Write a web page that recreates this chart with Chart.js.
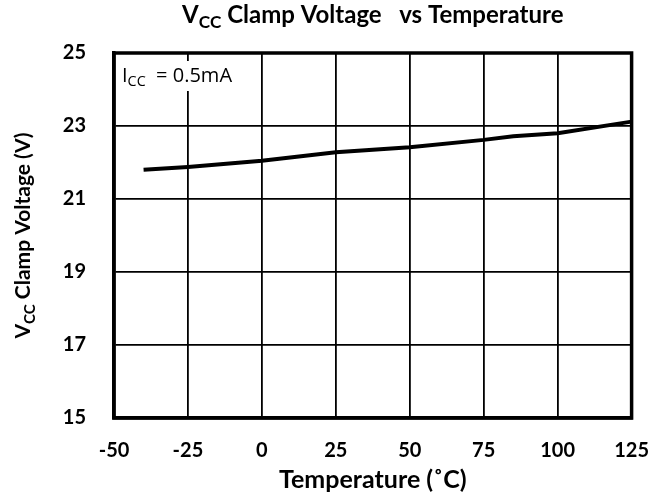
<!DOCTYPE html>
<html>
<head>
<meta charset="utf-8">
<script src="https://cdn.jsdelivr.net/npm/chart.js@4"></script>
<style>
  html, body { margin: 0; padding: 0; background: #fff; }
  #wrap { width: 670px; height: 497px; }
</style>
</head>
<body>
<div id="wrap"><canvas id="clampChart"></canvas></div>
<script>
const temperature = [-40, -25, 0, 25, 50, 75, 85, 100, 125];
const clampVoltage = [21.8, 21.88, 22.05, 22.28, 22.42, 22.62, 22.72, 22.8, 23.12];
const xTicks = [-50, -25, 0, 25, 50, 75, 100, 125];
const yTicks = [15, 17, 19, 21, 23, 25];

const labelFont = "Lato, 'Liberation Sans', sans-serif";

// draws text with a subscript part: parts = [[text, isSub], ...]
function drawSubText(ctx, parts, x, y, size, weight, align, family) {
    family = family || labelFont;
    let total = 0;
    parts.forEach(p => {
        ctx.font = weight + " " + (p[1] ? size * 0.72 : size) + "px " + family;
        total += ctx.measureText(p[0]).width;
    });
    let cx = align === "center" ? x - total / 2 : x;
    ctx.textAlign = "left";
    ctx.textBaseline = "alphabetic";
    parts.forEach(p => {
        ctx.font = weight + " " + (p[1] ? size * 0.72 : size) + "px " + family;
        ctx.fillText(p[0], cx, p[1] ? y + size * 0.22 : y);
        cx += ctx.measureText(p[0]).width;
    });
}

const framePlugin = {
    id: "frame",
    afterDraw(chart) {
        const { ctx, chartArea: a } = chart;
        ctx.save();
        ctx.strokeStyle = "#000";
        ctx.lineWidth = 3.5;
        ctx.strokeRect(a.left, a.top, a.right - a.left, a.bottom - a.top);
        ctx.fillStyle = "#000";

        // title
        drawSubText(ctx, [["V", false], ["CC", true], [" Clamp Voltage   vs Temperature", false]],
            (a.left + a.right) / 2, 23, 24, "bold", "center");

        // y axis title
        ctx.save();
        ctx.translate(30, (a.top + a.bottom) / 2);
        ctx.rotate(-Math.PI / 2);
        drawSubText(ctx, [["V", false], ["CC", true], [" Clamp Voltage (V)", false]], 0, 0, 21, "bold", "center");
        ctx.restore();

        // annotation
        ctx.fillStyle = "#fff";
        ctx.fillRect(a.left + 3, a.top + 8, 126, 30);
        ctx.fillStyle = "#000";
        drawSubText(ctx, [["I", false], ["CC", true], ["  = 0.5mA", false]],
            a.left + 8, a.top + 29, 20, "normal", "left", "'Open Sans', sans-serif");
        ctx.restore();
    }
};

new Chart(document.getElementById("clampChart"), {
    type: "line",
    data: {
        datasets: [{
            data: temperature.map((t, i) => ({ x: t, y: clampVoltage[i] })),
            borderColor: "#000",
            borderWidth: 4,
            pointRadius: 0,
            tension: 0,
            fill: false
        }]
    },
    options: {
        responsive: true,
        maintainAspectRatio: false,
        animation: false,
        layout: { padding: { top: 53, right: 34, left: 0, bottom: 0 } },
        plugins: {
            legend: { display: false },
            tooltip: { enabled: false }
        },
        scales: {
            x: {
                type: "linear",
                min: -50,
                max: 125,
                afterBuildTicks: axis => { axis.ticks = xTicks.map(v => ({ value: v })); },
                afterFit: axis => { axis.height = 79; },
                grid: { color: "#000", lineWidth: 1.8, drawTicks: false },
                border: { color: "#000", width: 3.5 },
                ticks: {
                    color: "#000",
                    padding: 21,
                    maxRotation: 0,
                    font: { family: labelFont, size: 20, weight: "bold" }
                },
                title: {
                    display: true,
                    text: "Temperature (˚C)",
                    color: "#000",
                    padding: { top: 0, bottom: 2 },
                    font: { family: labelFont, size: 25, weight: "bold" }
                }
            },
            y: {
                min: 15,
                max: 25,
                afterBuildTicks: axis => { axis.ticks = yTicks.map(v => ({ value: v })); },
                afterFit: axis => { axis.width = 114; },
                grid: { color: "#000", lineWidth: 1.8, drawTicks: false },
                border: { color: "#000", width: 3.5 },
                ticks: {
                    color: "#000",
                    padding: 28,
                    font: { family: labelFont, size: 20, weight: "bold" }
                }
            }
        }
    },
    plugins: [framePlugin]
});
</script>
</body>
</html>
